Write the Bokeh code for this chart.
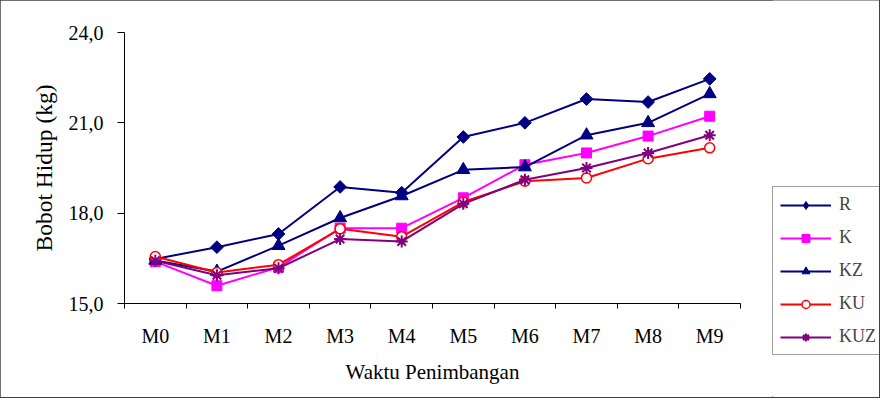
import numpy as np
from bokeh.plotting import figure
from bokeh.layouts import row
from bokeh.models import Range1d, FixedTicker, Legend, LegendItem
from bokeh.embed import file_html
from bokeh.resources import INLINE

categories = ["M0", "M1", "M2", "M3", "M4", "M5", "M6", "M7", "M8", "M9"]
R = [16.48, 16.87, 17.31, 18.87, 18.68, 20.53, 21.00, 21.79, 21.69, 22.46]
K = [16.39, 15.59, 16.20, 17.50, 17.50, 18.51, 19.61, 20.00, 20.56, 21.22]
KZ = [16.43, 16.06, 16.92, 17.84, 18.57, 19.44, 19.53, 20.59, 21.00, 21.96]
KU = [16.56, 16.03, 16.29, 17.48, 17.22, 18.37, 19.06, 19.17, 19.81, 20.17]
KUZ = [16.42, 15.94, 16.17, 17.14, 17.06, 18.31, 19.11, 19.50, 20.00, 20.59]
y_ticks = [15, 18, 21, 24]
y_tick_labels = ["15,0", "18,0", "21,0", "24,0"]

FONT = "'Liberation Serif'"

n = len(categories)
xc = [i + 0.5 for i in range(n)]

p = figure(width=772, height=397, output_backend="svg", toolbar_location=None,
           x_range=Range1d(0, n), y_range=Range1d(y_ticks[0], y_ticks[-1]),
           min_border_left=124, min_border_right=32, min_border_top=32, min_border_bottom=94)
p.frame_align = False
p.outline_line_color = None
p.xgrid.visible = False
p.ygrid.visible = False
p.background_fill_color = "white"
p.border_fill_color = "white"

xa = p.xaxis[0]
xa.ticker = FixedTicker(ticks=xc, minor_ticks=list(range(n + 1)))
xa.major_label_overrides = {x: c for x, c in zip(xc, categories)}
xa.major_tick_out = 0
xa.major_tick_in = 0
xa.minor_tick_out = 5
xa.minor_tick_in = 0
xa.minor_tick_line_color = "black"
xa.axis_line_color = "black"
xa.major_label_standoff = 16
xa.axis_label = "Waktu Penimbangan"
xa.axis_label_standoff = 10
xa.axis_label_text_font = FONT
xa.axis_label_text_font_style = "normal"
xa.axis_label_text_font_size = "21px"
xa.axis_label_text_color = "black"
xa.major_label_text_font = FONT
xa.major_label_text_font_size = "20px"
xa.major_label_text_color = "black"

ya = p.yaxis[0]
ya.ticker = FixedTicker(ticks=y_ticks, minor_ticks=[])
ya.major_label_overrides = {t: l for t, l in zip(y_ticks, y_tick_labels)}
ya.major_tick_out = 7
ya.major_tick_in = 0
ya.minor_tick_out = 0
ya.axis_line_color = "black"
ya.major_label_standoff = 14
ya.axis_label = "Bobot Hidup (kg)"
ya.axis_label_standoff = 9
ya.axis_label_text_font = FONT
ya.axis_label_text_font_style = "normal"
ya.axis_label_text_font_size = "23.5px"
ya.axis_label_text_color = "black"
ya.major_label_text_font = FONT
ya.major_label_text_font_size = "20px"
ya.major_label_text_color = "black"

# name, values, colour, marker, size, fill, angle, legend marker, legend size
series = [
    ("R", R, "#000080", "square", 9, "#000080", np.pi / 4, "diamond", 13),
    ("K", K, "#FF00FF", "square", 10, "#FF00FF", 0.0, "square", 10),
    ("KZ", KZ, "#000080", "triangle", 13, "#000080", 0.0, "triangle", 13),
    ("KU", KU, "#FF0000", "circle", 10, "white", 0.0, "circle", 10),
    ("KUZ", KUZ, "#800080", "asterisk", 12, "#800080", 0.0, "asterisk", 12),
]

# legend panel: a narrow figure to the right whose frame fills its canvas
pl = figure(width=107, height=397, output_backend="svg", toolbar_location=None,
            x_axis_location=None, y_axis_location=None,
            x_range=Range1d(-2, -1), y_range=Range1d(-2, -1),
            min_border_left=0, min_border_right=0, min_border_top=0, min_border_bottom=0)
pl.frame_align = False
pl.outline_line_color = None
pl.xgrid.visible = False
pl.ygrid.visible = False
pl.background_fill_color = "white"
pl.border_fill_color = "white"

items = []
for name, vals, col, mk, sz, fill, ang, lmk, lsz in series:
    lw = 2 if mk == "asterisk" else (1.5 if mk == "circle" else 1)
    p.line(xc, vals, line_color=col, line_width=2)
    p.scatter(xc, vals, marker=mk, size=sz, angle=ang, line_color=col, fill_color=fill, line_width=lw)
    # same series in the legend panel (outside its visible range) so the legend can draw samples
    l2 = pl.line(xc, vals, line_color=col, line_width=2)
    s2 = pl.scatter(xc, vals, marker=lmk, size=lsz, line_color=col, fill_color=fill, line_width=lw)
    items.append(LegendItem(label=name, renderers=[l2, s2]))

legend = Legend(items=items, location=(0, 42), orientation="vertical",
                label_text_font=FONT, label_text_font_size="18px",
                glyph_width=51, glyph_height=20, label_height=20, label_width=60,
                label_standoff=8, spacing=12, padding=7, margin=0,
                border_line_color="#404040", border_line_width=1.5,
                background_fill_color="white", background_fill_alpha=1.0)
pl.add_layout(legend, "center")

layout = row(p, pl, spacing=0)
layout.styles = {"outline": "2px solid #404040", "outline-offset": "-1px"}

open("out.html", "w").write(file_html(layout, INLINE))
